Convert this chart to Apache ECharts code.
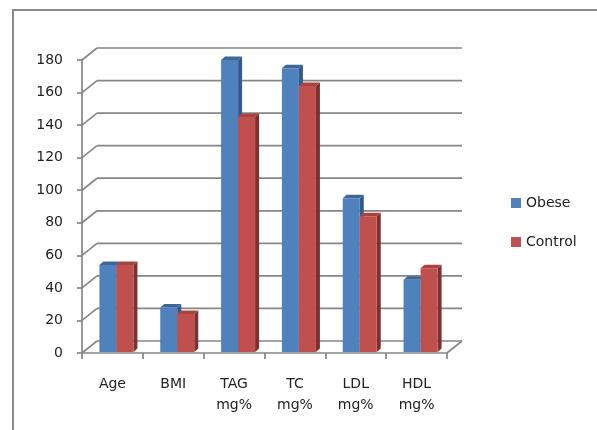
<!DOCTYPE html>
<html>
<head>
<meta charset="utf-8">
<script src="https://cdn.jsdelivr.net/npm/echarts@6/dist/echarts.min.js"></script>
<style>
  html, body { margin: 0; padding: 0; background: #fff; }
  #chart { width: 597px; height: 430px; }
</style>
</head>
<body>
<div id="chart"></div>
<script>
// Measurements per group (obese vs. control subjects)
const categories = ['Age', 'BMI', 'TAG\nmg%', 'TC\nmg%', 'LDL\nmg%', 'HDL\nmg%'];
const obese = [54, 28, 180, 175, 95, 45];
const control = [54, 24, 145, 164, 84, 52];
const yTicks = [0, 20, 40, 60, 80, 100, 120, 140, 160, 180];

// Pseudo-3D drawing constants
const WALL_DX = 15, WALL_DY = 12;   // depth of floor / back wall
const BAR_W = 17, BAR_DX = 4, BAR_DY = 3.5, BAR_SHIFT = 4;
const GRID_COLOR = '#868686';
const FONT = 'DejaVu Sans';

function barRenderer(slot, colors) {
  return function (params, api) {
    const i = api.value(0), v = api.value(1);
    const top = api.coord([i, v]);
    const base = api.coord([i, 0]);
    const x0 = top[0] + BAR_SHIFT + (slot - 1) * BAR_W;
    const x1 = x0 + BAR_W;
    const yT = top[1];
    const yB = base[1] - 1;
    return {
      type: 'group',
      children: [
        { type: 'polygon', shape: { points: [[x1, yT], [x1 + BAR_DX, yT - BAR_DY], [x1 + BAR_DX, yB - BAR_DY], [x1, yB]] },
          style: { fill: colors.side } },
        { type: 'polygon', shape: { points: [[x0, yT], [x0 + BAR_DX, yT - BAR_DY], [x1 + BAR_DX, yT - BAR_DY], [x1, yT]] },
          style: { fill: colors.top } },
        { type: 'rect', shape: { x: x0, y: yT, width: BAR_W, height: yB - yT },
          style: { fill: colors.front } }
      ]
    };
  };
}

function wallRenderer(params, api) {
  const v = api.value(1);
  const cs = params.coordSys;
  const y = api.coord([0, v])[1];
  const gx = cs.x, gw = cs.width;
  const lineStyle = { stroke: GRID_COLOR, lineWidth: 1.7 };
  const children = [
    { type: 'line', shape: { x1: gx, y1: y, x2: gx + WALL_DX, y2: y - WALL_DY }, style: lineStyle },
    { type: 'line', shape: { x1: gx + WALL_DX, y1: y - WALL_DY, x2: gx + gw + WALL_DX, y2: y - WALL_DY }, style: lineStyle }
  ];
  if (v === 0) {
    children.push({ type: 'line', shape: { x1: gx + gw, y1: y, x2: gx + gw + WALL_DX, y2: y - WALL_DY }, style: lineStyle });
  }
  return { type: 'group', children: children };
}

const chart = echarts.init(document.getElementById('chart'), null, { renderer: 'canvas' });

chart.setOption({
  animation: false,
  backgroundColor: '#ffffff',
  graphic: [{
    type: 'rect',
    shape: { x: 13, y: 10, width: 620, height: 460 },
    style: { fill: 'none', stroke: '#8a8a8a', lineWidth: 2 },
    silent: true
  }],
  grid: { left: 82, right: 150, top: 60, bottom: 77 },
  legend: {
    data: ['Obese', 'Control'],
    orient: 'vertical',
    left: 511,
    top: 196,
    padding: 0,
    itemWidth: 10,
    itemHeight: 10,
    itemGap: 25,
    icon: 'rect',
    textStyle: { fontFamily: FONT, fontSize: 14, color: '#222', lineHeight: 14 }
  },
  xAxis: {
    type: 'category',
    data: categories,
    axisLine: { show: true, lineStyle: { color: GRID_COLOR, width: 1.7 } },
    axisTick: { show: true, length: 6, lineStyle: { color: GRID_COLOR, width: 1.7 } },
    axisLabel: { fontFamily: FONT, fontSize: 14, color: '#222', lineHeight: 21, margin: 21 },
    splitLine: { show: false }
  },
  yAxis: {
    type: 'value',
    min: 0,
    max: 180,
    interval: 20,
    axisLine: { show: true, lineStyle: { color: GRID_COLOR, width: 1.7 } },
    axisTick: { show: true, length: 5, lineStyle: { color: GRID_COLOR, width: 1.7 } },
    axisLabel: { fontFamily: FONT, fontSize: 14, color: '#222', margin: 19 },
    splitLine: { show: false }
  },
  series: [
    {
      type: 'custom',
      name: 'walls',
      silent: true,
      clip: false,
      z: 1,
      data: yTicks.map(v => [0, v]),
      renderItem: wallRenderer
    },
    {
      type: 'custom',
      name: 'Obese',
      clip: false,
      z: 3,
      itemStyle: { color: '#4f81bd' },
      data: obese.map((v, i) => [i, v]),
      renderItem: barRenderer(0, { front: '#4f81bd', top: '#3e6797', side: '#35598a' })
    },
    {
      type: 'custom',
      name: 'Control',
      clip: false,
      z: 4,
      itemStyle: { color: '#c0504d' },
      data: control.map((v, i) => [i, v]),
      renderItem: barRenderer(1, { front: '#c0504d', top: '#a74442', side: '#7e302e' })
    }
  ]
});
</script>
</body>
</html>
